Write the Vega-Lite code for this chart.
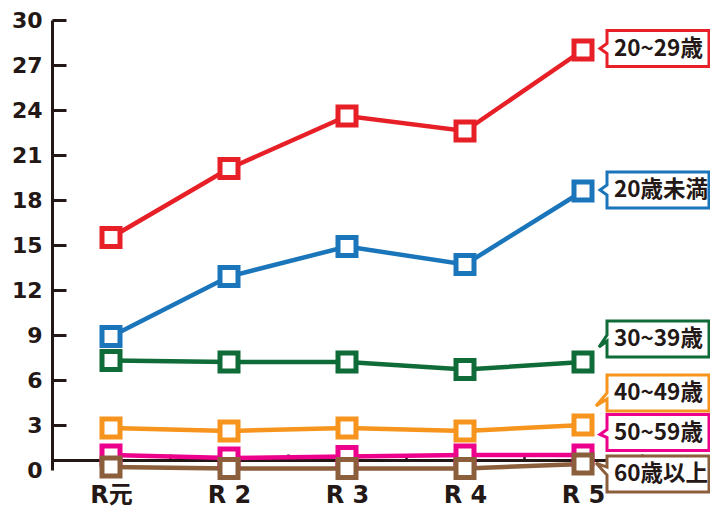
{
  "$schema": "https://vega.github.io/schema/vega-lite/v6.json",
  "width": 590,
  "height": 450,
  "autosize": {"type": "none"},
  "padding": {"left": 52, "top": 20, "right": 68, "bottom": 39},
  "background": "white",
  "config": {
    "view": {"stroke": null},
    "axis": {"grid": false, "domainColor": "#231815", "domainWidth": 3, "tickColor": "#231815", "labelColor": "#231815", "labelFontWeight": "bold", "labelFont": "DejaVu Sans, Noto Sans CJK JP"}
  },
  "datasets": {
    "main": [
      {"year": "R元", "series": "20歳未満", "value": 8.9},
      {"year": "R2", "series": "20歳未満", "value": 12.9},
      {"year": "R3", "series": "20歳未満", "value": 14.9},
      {"year": "R4", "series": "20歳未満", "value": 13.7},
      {"year": "R5", "series": "20歳未満", "value": 18.6},
      {"year": "R元", "series": "20~29歳", "value": 15.5},
      {"year": "R2", "series": "20~29歳", "value": 20.1},
      {"year": "R3", "series": "20~29歳", "value": 23.6},
      {"year": "R4", "series": "20~29歳", "value": 22.6},
      {"year": "R5", "series": "20~29歳", "value": 28.0},
      {"year": "R元", "series": "30~39歳", "value": 7.3},
      {"year": "R2", "series": "30~39歳", "value": 7.2},
      {"year": "R3", "series": "30~39歳", "value": 7.2},
      {"year": "R4", "series": "30~39歳", "value": 6.7},
      {"year": "R5", "series": "30~39歳", "value": 7.2},
      {"year": "R元", "series": "40~49歳", "value": 2.8},
      {"year": "R2", "series": "40~49歳", "value": 2.6},
      {"year": "R3", "series": "40~49歳", "value": 2.8},
      {"year": "R4", "series": "40~49歳", "value": 2.6},
      {"year": "R5", "series": "40~49歳", "value": 3.0},
      {"year": "R元", "series": "50~59歳", "value": 1.0},
      {"year": "R2", "series": "50~59歳", "value": 0.8},
      {"year": "R3", "series": "50~59歳", "value": 0.9},
      {"year": "R4", "series": "50~59歳", "value": 1.0},
      {"year": "R5", "series": "50~59歳", "value": 1.0},
      {"year": "R元", "series": "60歳以上", "value": 0.2},
      {"year": "R2", "series": "60歳以上", "value": 0.1},
      {"year": "R3", "series": "60歳以上", "value": 0.1},
      {"year": "R4", "series": "60歳以上", "value": 0.1},
      {"year": "R5", "series": "60歳以上", "value": 0.4}
    ],
    "labels": [
      {"year": "R5", "series": "20歳未満", "labelValue": 18.67},
      {"year": "R5", "series": "20~29歳", "labelValue": 28.1},
      {"year": "R5", "series": "30~39歳", "labelValue": 8.73},
      {"year": "R5", "series": "40~49歳", "labelValue": 5.13},
      {"year": "R5", "series": "50~59歳", "labelValue": 2.5},
      {"year": "R5", "series": "60歳以上", "labelValue": -0.27}
    ]
  },
  "encoding": {
    "x": {
      "field": "year", "type": "ordinal", "sort": ["R元", "R2", "R3", "R4", "R5"],
      "scale": {"type": "band", "paddingInner": 0, "paddingOuter": 0},
      "axis": {"title": null, "offset": -10, "tickBand": "extent", "tickSize": -6, "tickWidth": 2.5, "labelFontSize": 24, "labelPadding": 29, "labelAngle": 0,
        "labelExpr": "datum.label == 'R元' ? 'R元' : replace(datum.label, 'R', 'R ')"}
    }
  },
  "layer": [
    {
      "data": {"name": "main"},
      "mark": {"type": "line", "strokeWidth": 4.5},
      "encoding": {
        "y": {"field": "value", "type": "quantitative", "scale": {"domain": [0, 30], "nice": false, "zero": false},
          "axis": {"title": null, "values": [0, 3, 6, 9, 12, 15, 18, 21, 24, 27, 30], "tickSize": -14, "tickWidth": 3, "labelFontSize": 22, "labelPadding": 24,
            "tickOpacity": {"condition": {"test": "datum.value === 0", "value": 0}, "value": 1}}},
        "stroke": {"field": "series", "type": "nominal", "legend": null,
          "scale": {"domain": ["20歳未満", "20~29歳", "30~39歳", "40~49歳", "50~59歳", "60歳以上"],
                    "range": ["#1a75bb", "#e71f26", "#0f6b37", "#f7941d", "#ec008c", "#8b5e3c"]}},
        "detail": {"field": "series"}
      }
    },
    {
      "data": {"name": "main"},
      "mark": {"type": "point", "shape": "square", "size": 324, "strokeWidth": 5, "fill": "white", "fillOpacity": 1, "opacity": 1},
      "encoding": {
        "y": {"field": "value", "type": "quantitative"},
        "stroke": {"field": "series", "type": "nominal", "legend": null}
      }
    },
    {
      "data": {"name": "labels"},
      "mark": {"type": "point", "size": 4, "strokeWidth": 3, "fill": "white", "fillOpacity": 1, "opacity": 1, "xOffset": 75},
      "encoding": {
        "y": {"field": "labelValue", "type": "quantitative"},
        "stroke": {"field": "series", "type": "nominal", "legend": null},
        "shape": {"field": "series", "type": "nominal", "legend": null,
          "scale": {"domain": ["20歳未満", "20~29歳", "30~39歳", "40~49歳", "50~59歳", "60歳以上"],
                    "range": [
                      "M-51,-18 H51 V18 H-51 V5 L-58,0 L-51,-5 Z",
                      "M-51,-18 H51 V18 H-51 V5 L-58,0 L-51,-5 Z",
                      "M-51,-18 H51 V18 H-51 V2 L-59,8 L-51,-4 Z",
                      "M-51,-18 H51 V18 H-51 V6 L-62,13 L-51,0 Z",
                      "M-51,-18 H51 V18 H-51 V5 L-58,2 L-51,-3 Z",
                      "M-51,-18 H51 V18 H-51 V1 L-62,-11 L-51,-7 Z"
                    ]}}
      }
    },
    {
      "data": {"name": "labels"},
      "mark": {"type": "text", "align": "left", "baseline": "middle", "dx": 31, "font": "Noto Sans CJK JP", "fontWeight": "bold", "fontSize": 22.5, "color": "#231815"},
      "encoding": {
        "y": {"field": "labelValue", "type": "quantitative"},
        "text": {"field": "series"}
      }
    }
  ]
}
